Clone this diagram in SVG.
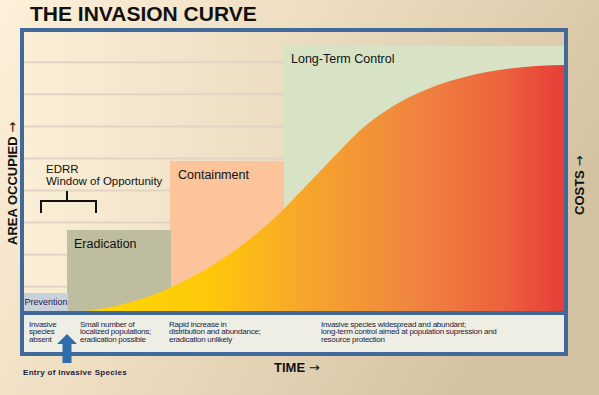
<svg xmlns="http://www.w3.org/2000/svg" width="599" height="395" viewBox="0 0 599 395">
  <defs>
    <linearGradient id="bg" x1="0" y1="0" x2="1" y2="0.4">
      <stop offset="0" stop-color="#fdf0da"/>
      <stop offset="0.5" stop-color="#ecdcbf"/>
      <stop offset="1" stop-color="#d4c3a2"/>
    </linearGradient>
    <linearGradient id="chartbg" x1="0" y1="0" x2="1" y2="0">
      <stop offset="0" stop-color="#faeed6"/>
      <stop offset="1" stop-color="#dccbac"/>
    </linearGradient>
    <linearGradient id="curve" gradientUnits="userSpaceOnUse" x1="80" y1="0" x2="566" y2="0">
      <stop offset="0" stop-color="#ffd800"/>
      <stop offset="0.27" stop-color="#fec80a"/>
      <stop offset="0.45" stop-color="#f7a82a"/>
      <stop offset="0.68" stop-color="#f0863f"/>
      <stop offset="0.87" stop-color="#ec623c"/>
      <stop offset="1" stop-color="#e63c38"/>
    </linearGradient>
    <style>
      .lbl { font-family: "Liberation Sans", Arial, sans-serif; fill: #111; }
      .axis { font-family: "Liberation Sans", Arial, sans-serif; font-weight: bold; fill: #111; font-size: 13px; }
      .arr { font-family: "DejaVu Sans", sans-serif; font-weight: normal; }
      .note { font-family: "Liberation Sans", Arial, sans-serif; font-size: 8px; letter-spacing: -0.25px; fill: #1c1c3c; }
      .grid { stroke: #e0d5c4; stroke-width: 2; }
    </style>
  </defs>

  <rect x="0" y="0" width="599" height="395" fill="url(#bg)"/>

  <text x="30" y="21" font-family="Liberation Sans, Arial, sans-serif" font-weight="bold" font-size="21" fill="#111">THE INVASION CURVE</text>

  <g id="chart-area">
    <rect x="24" y="32" width="542" height="280" fill="url(#chartbg)"/>
    <g id="gridlines">
      <line class="grid" x1="24" y1="62.3" x2="566" y2="62.3"/>
      <line class="grid" x1="24" y1="94.3" x2="566" y2="94.3"/>
      <line class="grid" x1="24" y1="126.4" x2="566" y2="126.4"/>
      <line class="grid" x1="24" y1="158.5" x2="566" y2="158.5"/>
      <line class="grid" x1="24" y1="190.6" x2="566" y2="190.6"/>
      <line class="grid" x1="24" y1="222.6" x2="566" y2="222.6"/>
      <line class="grid" x1="24" y1="254.7" x2="566" y2="254.7"/>
      <line class="grid" x1="24" y1="286.7" x2="566" y2="286.7"/>
    </g>
  </g>

  <g id="long-term-control">
    <rect x="284" y="46" width="282" height="266" fill="#d8e3c6"/>
    <text class="lbl" x="291" y="63" font-size="12.5">Long-Term Control</text>
  </g>

  <g id="containment">
    <rect x="170" y="161" width="114" height="151" fill="#fbc49a"/>
    <text class="lbl" x="178" y="179" font-size="12.5">Containment</text>
  </g>

  <g id="eradication">
    <rect x="67" y="230" width="104" height="82" fill="#bfbd9f"/>
    <text class="lbl" x="74" y="248" font-size="12.5">Eradication</text>
  </g>

  <g id="prevention">
    <rect x="24" y="293" width="44" height="19" fill="#c8d2da"/>
    <text x="24.5" y="305" font-family="Liberation Sans, Arial, sans-serif" font-size="9" fill="#2a1650">Prevention</text>
  </g>

  <g id="invasion-curve">
    <path d="M80,311.5 C160,305 230,260 280,213 L350,140 C400,90 470,66 566,65 L566,312 L80,312 Z" fill="url(#curve)"/>
  </g>

  <g id="edrr">
    <text class="lbl" x="46" y="173" font-size="11.5">EDRR</text>
    <text class="lbl" x="46" y="184.5" font-size="11.5">Window of Opportunity</text>
  </g>

  <g id="bottom-panel">
    <rect x="24" y="315" width="542" height="37" fill="#efeee5"/>
    <text class="note" x="29" y="326.5">Invasive</text>
    <text class="note" x="29" y="334">species</text>
    <text class="note" x="29" y="341.5">absent</text>
    <text class="note" x="80" y="326.5">Small number of</text>
    <text class="note" x="80" y="334">localized populations;</text>
    <text class="note" x="80" y="341.5">eradication possible</text>
    <text class="note" x="169" y="326.5">Rapid increase in</text>
    <text class="note" x="169" y="334">distribution and abundance;</text>
    <text class="note" x="169" y="341.5">eradication unlikely</text>
    <text class="note" x="321" y="326.5">Invasive species widespread and abundant;</text>
    <text class="note" x="321" y="334">long-term control aimed at population supression and</text>
    <text class="note" x="321" y="341.5">resource protection</text>
  </g>

  <g id="frame">
    <rect x="22" y="30" width="544" height="324" fill="none" stroke="#41699a" stroke-width="4"/>
    <line x1="24" y1="313" x2="566" y2="313" stroke="#41699a" stroke-width="4"/>
  </g>

  <g id="connectors">
    <path d="M41,213 V201 H96 V213 M67,201 V191" fill="none" stroke="#111" stroke-width="2"/>
    <path d="M67,334 L77,344 L71.5,344 L71.5,363 L62.5,363 L62.5,344 L57,344 Z" fill="#2f6eaa"/>
  </g>

  <g id="axis-labels">
    <text x="23" y="375" font-family="Liberation Sans, Arial, sans-serif" font-weight="bold" font-size="8" letter-spacing="0.3" fill="#1c2040">Entry of Invasive Species</text>
    <text class="axis" x="274" y="372" font-size="12">TIME <tspan class="arr">→</tspan></text>
    <text class="axis" transform="translate(17,245) rotate(-90)">AREA OCCUPIED <tspan class="arr">→</tspan></text>
    <text class="axis" transform="translate(584,215) rotate(-90)">COSTS <tspan class="arr">→</tspan></text>
  </g>
</svg>
